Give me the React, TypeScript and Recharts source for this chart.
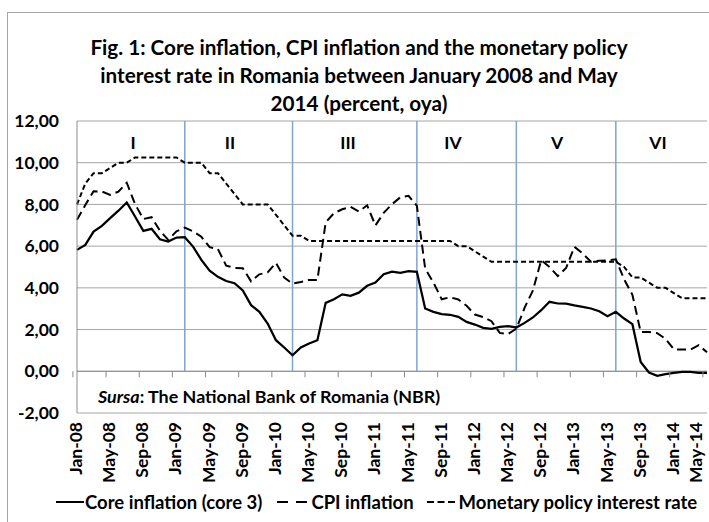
import * as React from 'react';
import {
  LineChart,
  Line,
  XAxis,
  YAxis,
  CartesianGrid,
  ReferenceLine,
  Legend,
} from 'recharts';

const months = [
  'Jan-08', 'Feb-08', 'Mar-08', 'Apr-08', 'May-08', 'Jun-08', 'Jul-08', 'Aug-08', 'Sep-08', 'Oct-08', 'Nov-08', 'Dec-08',
  'Jan-09', 'Feb-09', 'Mar-09', 'Apr-09', 'May-09', 'Jun-09', 'Jul-09', 'Aug-09', 'Sep-09', 'Oct-09', 'Nov-09', 'Dec-09',
  'Jan-10', 'Feb-10', 'Mar-10', 'Apr-10', 'May-10', 'Jun-10', 'Jul-10', 'Aug-10', 'Sep-10', 'Oct-10', 'Nov-10', 'Dec-10',
  'Jan-11', 'Feb-11', 'Mar-11', 'Apr-11', 'May-11', 'Jun-11', 'Jul-11', 'Aug-11', 'Sep-11', 'Oct-11', 'Nov-11', 'Dec-11',
  'Jan-12', 'Feb-12', 'Mar-12', 'Apr-12', 'May-12', 'Jun-12', 'Jul-12', 'Aug-12', 'Sep-12', 'Oct-12', 'Nov-12', 'Dec-12',
  'Jan-13', 'Feb-13', 'Mar-13', 'Apr-13', 'May-13', 'Jun-13', 'Jul-13', 'Aug-13', 'Sep-13', 'Oct-13', 'Nov-13', 'Dec-13',
  'Jan-14', 'Feb-14', 'Mar-14', 'Apr-14', 'May-14',
];

// core inflation (core 3), % oya
const coreInflation = [
  5.82, 6.06, 6.7, 6.97, 7.34, 7.7, 8.09, 7.42, 6.73, 6.83, 6.33, 6.22,
  6.41, 6.43, 5.98, 5.34, 4.82, 4.53, 4.33, 4.22, 3.88, 3.17, 2.85, 2.29,
  1.49, 1.14, 0.77, 1.14, 1.33, 1.49, 3.28, 3.45, 3.69, 3.62, 3.77, 4.1,
  4.25, 4.65, 4.78, 4.72, 4.8, 4.77, 3.01, 2.85, 2.74, 2.71, 2.61, 2.37,
  2.24, 2.08, 2.03, 2.13, 2.16, 2.1, 2.32, 2.58, 2.93, 3.33, 3.25, 3.24,
  3.16, 3.09, 3.01, 2.88, 2.64, 2.85, 2.53, 2.26, 0.45, -0.06, -0.22, -0.14,
  -0.08, -0.03, -0.03, -0.08, -0.08,
];

const cpiInflation = [
  7.26, 7.97, 8.63, 8.62, 8.46, 8.61, 9.04, 8.02, 7.3, 7.39, 6.74, 6.3,
  6.71, 6.89, 6.71, 6.45, 5.95, 5.86, 5.06, 4.96, 4.94, 4.31, 4.65, 4.74,
  5.2, 4.49, 4.2, 4.28, 4.38, 4.38, 7.14, 7.58, 7.77, 7.88, 7.66, 7.96,
  6.99, 7.6, 8.01, 8.34, 8.41, 7.93, 4.93, 4.25, 3.45, 3.55, 3.44, 3.14,
  2.72, 2.6, 2.4, 1.84, 1.79, 2.04, 3.05, 3.88, 5.33, 5.0, 4.56, 4.95,
  5.97, 5.65, 5.25, 5.3, 5.32, 5.37, 4.41, 3.67, 1.88, 1.88, 1.83, 1.55,
  1.05, 1.05, 1.04, 1.25, 0.91,
];

const policyRate = [
  8.0, 9.0, 9.5, 9.5, 9.75, 10.0, 10.0, 10.25, 10.25, 10.25, 10.25, 10.25,
  10.25, 10.0, 10.0, 10.0, 9.5, 9.5, 9.0, 8.5, 8.0, 8.0, 8.0, 8.0,
  7.5, 7.0, 6.5, 6.5, 6.25, 6.25, 6.25, 6.25, 6.25, 6.25, 6.25, 6.25,
  6.25, 6.25, 6.25, 6.25, 6.25, 6.25, 6.25, 6.25, 6.25, 6.25, 6.0, 6.0,
  5.75, 5.5, 5.25, 5.25, 5.25, 5.25, 5.25, 5.25, 5.25, 5.25, 5.25, 5.25,
  5.25, 5.25, 5.25, 5.25, 5.25, 5.25, 5.0, 4.5, 4.5, 4.25, 4.0, 4.0,
  3.75, 3.5, 3.5, 3.5, 3.5,
];

const yTicks = [-2, 0, 2, 4, 6, 8, 10, 12];

// months where the policy periods change
const periodBreaks = ['Feb-09', 'Mar-10', 'Jun-11', 'Jun-12', 'Jun-13'];
const periodNames = ['I', 'II', 'III', 'IV', 'V', 'VI'];
const periodLabelX = [133, 230, 348, 453, 557, 658];

const W = 709;
const H = 522;
const TOP = 121;
const LEFT = 77;
const RIGHT = 2;
const X_AXIS_H = 109;
const PLOT_H = H - TOP - X_AXIS_H;
const ZERO_Y = TOP + (PLOT_H * 12) / 14;
const BAND = (W - LEFT - RIGHT) / months.length;

const FONT = 'Lato, "Open Sans", sans-serif';

const data = months.map((m, i) => ({
  month: m,
  core: coreInflation[i],
  cpi: cpiInflation[i],
  rate: policyRate[i],
}));

function MonthTick(props: any) {
  const { x, payload } = props;
  const left = x - BAND / 2;
  // keep the last label inside the frame
  const tx = Math.min(x + 5, W - 7);
  return (
    <g>
      <line x1={left} x2={left} y1={ZERO_Y} y2={ZERO_Y + 6} stroke="#888" strokeWidth={1} />
      <text
        x={tx}
        y={422}
        transform={`rotate(-90, ${tx}, 422)`}
        textAnchor="end"
        fontFamily={FONT}
        fontWeight="bold"
        fontSize={17.5}
        fill="#000"
      >
        {payload.value}
      </text>
    </g>
  );
}

function LegendBox() {
  const sample = (dash: string | undefined, w: number) => (
    <svg width={w} height={10} style={{ marginRight: 1 }}>
      <line x1={0} x2={w} y1={5} y2={5} stroke="#000" strokeWidth={2} strokeDasharray={dash} />
    </svg>
  );
  return (
    <div
      style={{
        fontFamily: FONT,
        fontWeight: 'bold',
        fontSize: 18.5,
        color: '#000',
        whiteSpace: 'nowrap',
        display: 'flex',
        alignItems: 'center',
      }}
    >
      {sample(undefined, 28)}
      <span style={{ marginRight: 15 }}>Core inflation (core 3)</span>
      {sample('11 8', 30)}
      <span style={{ marginLeft: 3, marginRight: 13 }}>CPI inflation</span>
      {sample('7 3.5', 28)}
      <span style={{ marginLeft: 3 }}>Monetary policy interest rate</span>
    </div>
  );
}

export default function App() {
  return (
    <div style={{ position: 'absolute', left: 0, top: 0, width: W, height: H, background: '#fff', overflow: 'hidden' }}>
      <div
        style={{
          position: 'absolute',
          left: 7,
          top: 12,
          width: W,
          height: H,
          borderLeft: '1px solid #a6a6a6',
          borderTop: '1px solid #a6a6a6',
        }}
      />
      <div
        style={{
          position: 'absolute',
          left: 0,
          top: 33,
          width: 718,
          textAlign: 'center',
          fontFamily: FONT,
          fontWeight: 'bold',
          fontSize: 20.7,
          lineHeight: '28px',
        }}
      >
        Fig. 1: Core inflation, CPI inflation and the monetary policy
        <br />
        interest rate in Romania between January 2008 and May
        <br />
        2014 (percent, oya)
      </div>
      <LineChart
        width={W}
        height={H}
        data={data}
        margin={{ top: TOP, right: RIGHT, bottom: 0, left: 0 }}
      >
        <CartesianGrid horizontal vertical={false} stroke="#a6a6a6" />
        <XAxis
          dataKey="month"
          height={X_AXIS_H}
          interval={3}
          axisLine={false}
          tickLine={false}
          tick={<MonthTick />}
        />
        <YAxis
          width={LEFT}
          domain={[-2, 12]}
          ticks={yTicks}
          interval={0}
          axisLine={{ stroke: '#8c8c8c' }}
          tickLine={false}
          tickFormatter={(v: number) => v.toFixed(2).replace('.', ',')}
          tick={{ fontFamily: FONT, fontWeight: 'bold', fontSize: 17.5, fill: '#000', dx: -10 }}
        />
        <ReferenceLine y={0} stroke="#8c8c8c" />
        {periodBreaks.map((m) => (
          <ReferenceLine
            key={m}
            segment={[
              { x: m, y: 12 },
              { x: m, y: 0 },
            ]}
            stroke="#7ea3d6"
            strokeWidth={1.5}
          />
        ))}
        <Line
          type="linear"
          dataKey="rate"
          stroke="#000"
          strokeWidth={2}
          strokeDasharray="5 3"
          dot={false}
          isAnimationActive={false}
        />
        <Line
          type="linear"
          dataKey="cpi"
          stroke="#000"
          strokeWidth={2}
          strokeDasharray="9 5"
          dot={false}
          isAnimationActive={false}
        />
        <Line
          type="linear"
          dataKey="core"
          stroke="#000"
          strokeWidth={2.25}
          dot={false}
          isAnimationActive={false}
        />
        <Legend
          layout="horizontal"
          verticalAlign="middle"
          align="center"
          content={<LegendBox />}
          wrapperStyle={{ top: 491, left: 56, width: W - 56 }}
        />
      </LineChart>
      {periodNames.map((n, i) => (
        <div
          key={n}
          style={{
            position: 'absolute',
            left: periodLabelX[i] - 20,
            width: 40,
            top: 132,
            textAlign: 'center',
            fontFamily: FONT,
            fontWeight: 'bold',
            fontSize: 17.5,
          }}
        >
          {n}
        </div>
      ))}
      <div
        style={{
          position: 'absolute',
          left: 98,
          top: 385,
          fontFamily: FONT,
          fontWeight: 'bold',
          fontSize: 17.9,
          whiteSpace: 'nowrap',
        }}
      >
        <i>Sursa</i>: The National Bank of Romania (NBR)
      </div>
    </div>
  );
}
